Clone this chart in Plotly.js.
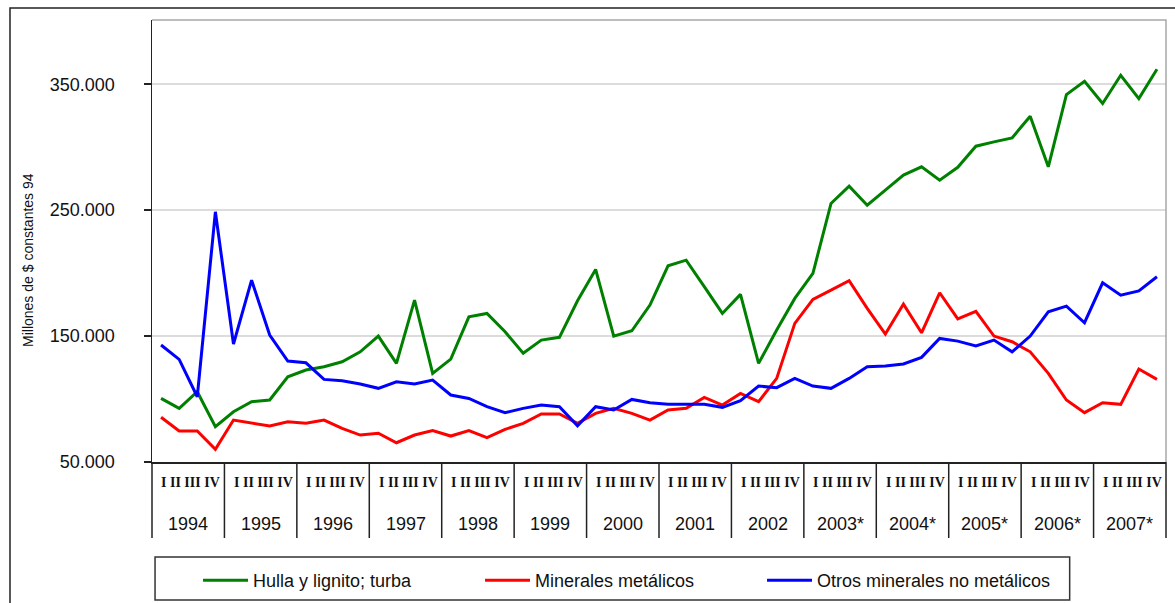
<!DOCTYPE html>
<html>
<head>
<meta charset="utf-8">
<script src="https://cdn.plot.ly/plotly-3.0.1.min.js"></script>
<style>
  html, body { margin: 0; padding: 0; background: #ffffff; }
  #chart { width: 1175px; height: 603px; }
</style>
</head>
<body>
<div id="chart"></div>
<script>
// Quarterly data 1994 Q1 .. 2007 Q4 (millones de $ constantes 94)
const years = ['1994','1995','1996','1997','1998','1999','2000','2001','2002','2003*','2004*','2005*','2006*','2007*'];
const quarters = ['I','II','III','IV'];

const hulla = [100500, 92600, 105800, 78000, 89900, 97900, 99200, 117700,
  123000, 125600, 129600, 137500, 150000, 128300, 178600, 120400,
  131700, 165300, 168000, 153400, 136300, 146800, 149000, 178000,
  202900, 150000, 154200, 174600, 205800, 210300, 189200, 168000,
  183100, 128300, 154800, 179900, 199800, 255300, 269000, 253900,
  265900, 277800, 284400, 273800, 284000, 300800, 304200, 307400,
  324600, 284400, 341800, 352400, 334700, 357100, 338600, 361900];

const minerales = [85500, 74600, 74600, 60100, 83300, 80700, 78600, 82000,
  80700, 83300, 76700, 71400, 72800, 65300, 71400, 74900,
  70600, 74900, 69300, 75900, 80700, 88100, 88100, 80700,
  88600, 92600, 88600, 83300, 91300, 92600, 101300, 95200,
  104500, 97900, 116400, 160100, 179100, 186500, 193900, 172000,
  151600, 175400, 152600, 184400, 163600, 169700, 150000, 145500,
  137500, 120400, 99200, 89200, 97100, 95800, 123800, 115600];

const otros = [142900, 131500, 101800, 248700, 143700, 194400, 150800, 130200,
  128800, 115600, 114500, 112000, 108500, 113700, 111900, 115100,
  103200, 100500, 93900, 89200, 92600, 95200, 93900, 78700,
  93900, 91300, 99700, 97100, 95800, 95800, 95800, 93400,
  98700, 110300, 109000, 116400, 110300, 108500, 116400, 125600,
  126200, 127800, 133100, 148100, 146000, 142100, 146800, 137500,
  150000, 169300, 173800, 160600, 192300, 182500, 185900, 197100];

const seriesNames = ['Hulla y lignito; turba', 'Minerales metálicos', 'Otros minerales no metálicos'];
const yTicks = [50000, 150000, 250000, 350000];

const xIdx = hulla.map((_, i) => i);
const nQ = quarters.length;
const nPts = hulla.length;

const FONT = 'Liberation Sans, Arial, sans-serif';

function mk(name, y, color, lw) {
  const t = {
    type: 'scatter', mode: 'lines', name: name,
    x: xIdx, y: y,
    line: { color: color, width: 3 },
    hoverinfo: 'skip'
  };
  if (lw) t.legendwidth = lw;
  return t;
}

const data = [
  mk(seriesNames[0], hulla, '#008000'),
  mk(seriesNames[1], minerales, '#ff0000'),
  mk(seriesNames[2], otros, '#0000ff', 262)
];

const shapes = [];
const annotations = [];

// outer frame
shapes.push({ type: 'path', xref: 'paper', yref: 'paper',
  path: 'M -0.14004,-0.33 L -0.14004,1.02715 L 1.02,1.02715',
  line: { color: '#222', width: 1.5 } });

// plot box (light top/right)
shapes.push({ type: 'path', xref: 'paper', yref: 'paper',
  path: 'M 0,1 L 1,1 L 1,0', line: { color: '#a8a8a8', width: 1.5 } });

// year dividers and labels
years.forEach((yr, k) => {
  annotations.push({ xref: 'x', yref: 'paper', x: k * nQ + (nQ - 1) / 2, y: -0.1403,
    text: yr, showarrow: false, xanchor: 'center', yanchor: 'middle',
    font: { family: FONT, size: 18, color: '#111' } });
  annotations.push({ xref: 'x', yref: 'paper', x: k * nQ + (nQ - 1) / 2 + 0.15, y: -0.046,
    text: quarters.join(' '), showarrow: false, xanchor: 'center', yanchor: 'middle',
    font: { family: 'Liberation Serif, Times New Roman, serif', size: 14, color: '#111', weight: 'bold' } });
});
for (let k = 0; k <= years.length; k++) {
  const xp = (k * nQ) / nPts;
  shapes.push({ type: 'line', xref: 'paper', yref: 'paper', x0: xp, x1: xp, y0: 0, y1: -0.172,
    line: { color: '#222', width: 1.5 } });
}

// legend box
shapes.push({ type: 'rect', xref: 'paper', yref: 'paper', x0: 0.003, x1: 0.905, y0: -0.312, y1: -0.215,
  line: { color: '#333', width: 1.5 }, fillcolor: 'rgba(0,0,0,0)' });

// y axis title
annotations.push({ xref: 'paper', yref: 'paper', x: -0.1223, y: 0.457, textangle: -90,
  text: 'Millones de $ constantes 94', showarrow: false, xanchor: 'center', yanchor: 'middle',
  font: { family: FONT, size: 14, color: '#111' } });

const layout = {
  width: 1175, height: 603,
  margin: { l: 152, r: 9, t: 20, b: 141, autoexpand: false },
  paper_bgcolor: '#ffffff', plot_bgcolor: '#ffffff',
  separators: ',.',
  showlegend: true,
  legend: {
    orientation: 'h', x: 0.0454, xanchor: 'left', y: -0.2263, yanchor: 'top',
    font: { family: FONT, size: 18, color: '#111' },
    bgcolor: 'rgba(0,0,0,0)', borderwidth: 0,
    entrywidth: 222, itemwidth: 45
  },
  xaxis: {
    range: [-0.5, nPts - 0.5], showgrid: false, zeroline: false,
    showticklabels: false, ticks: '', showline: true, linecolor: '#222', linewidth: 1.5,
    fixedrange: true
  },
  yaxis: {
    range: [50000, 401000], tickvals: yTicks, tickformat: ',.0f',
    showgrid: true, gridcolor: '#dcdcdc', gridwidth: 1.5, zeroline: false,
    showline: true, linecolor: '#222', linewidth: 1.5,
    ticks: 'outside', ticklen: 7, tickcolor: '#222', tickwidth: 1.5,
    ticklabelstandoff: 25,
    tickfont: { family: FONT, size: 18, color: '#111' },
    fixedrange: true
  },
  shapes: shapes,
  annotations: annotations
};

Plotly.newPlot('chart', data, layout, { displayModeBar: false, staticPlot: true });
</script>
</body>
</html>
